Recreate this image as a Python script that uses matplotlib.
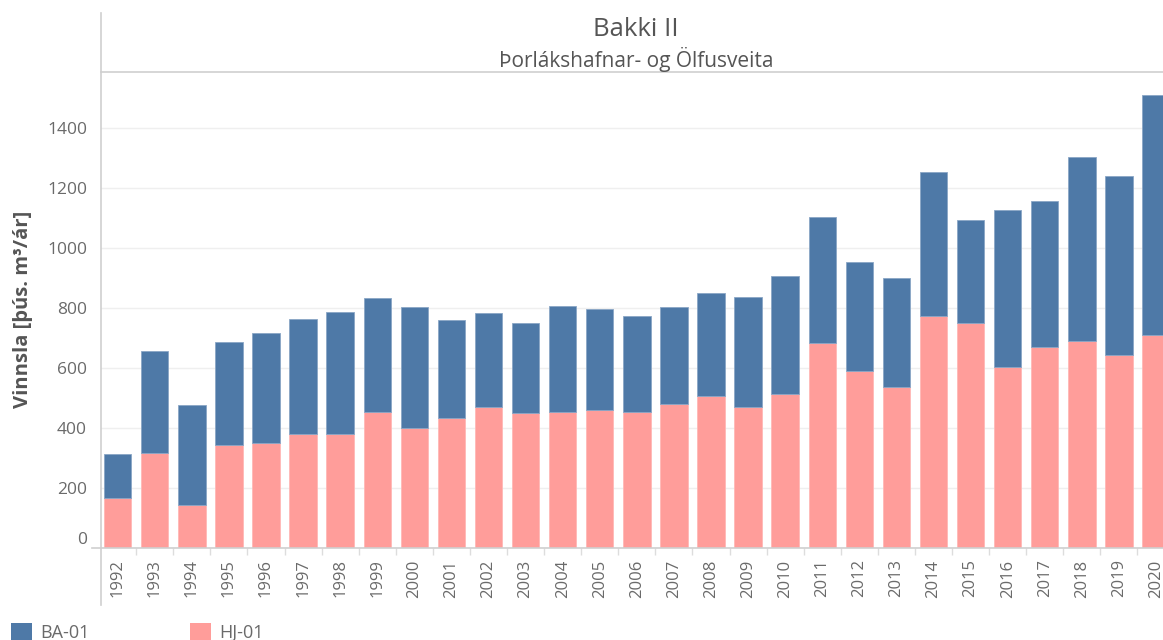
import matplotlib
matplotlib.use("Agg")
import numpy as np
import matplotlib.pyplot as plt
from matplotlib.patches import Patch
from matplotlib.lines import Line2D

plt.rcParams['font.family'] = ['Open Sans', 'DejaVu Sans']

# data (thous. m3 / year)
years = list(range(1992, 2021))
hj01 = [169, 319, 144, 343, 352, 382, 382, 454, 401, 435, 470, 450, 454, 460,
        454, 480, 508, 470, 513, 683, 590, 538, 774, 750, 605, 672, 692, 643, 711]
totals = [313, 659, 479, 688, 717, 765, 789, 833, 803, 760, 784, 751, 809, 799,
          774, 803, 852, 838, 907, 1104, 953, 900, 1254, 1094, 1129, 1157, 1303, 1240, 1511]
ba01 = [t - h for t, h in zip(totals, hj01)]

c_ba = '#4e79a7'
c_hj = '#ff9d9a'
grey = '#6a6a6a'
line_c = '#cfcfcf'

W, H = 1163, 640
fig = plt.figure(figsize=(W / 100, H / 100), dpi=100)
ax = fig.add_axes([101 / W, 1 - 548.3 / H, 1 - 101 / W, (548.3 - 72) / H])

x = np.array(years)
ax.bar(x, hj01, width=0.74, color=c_hj, edgecolor='#ffb8b6', linewidth=0.6, zorder=3)
ax.bar(x, ba01, bottom=hj01, width=0.74, color=c_ba, edgecolor='#8aa6c6', linewidth=0.6, zorder=3)

ax.set_xlim(1991.55, 2020.19)
ax.set_ylim(0, 1588)
ax.set_yticks(range(0, 1401, 200))
ax.set_yticklabels([str(v) for v in range(0, 1401, 200)])
ax.yaxis.grid(True, color='#efefef', linewidth=1, zorder=0)
ax.tick_params(axis='y', length=0, pad=10, labelsize=12.5, labelcolor=grey)
# Tableau nudges the zero label up a bit
ax.get_yticklabels()[0].set_va('bottom')

ax.set_xticks(x)
ax.set_xticklabels([str(y) for y in years], rotation=90)
ax.set_xticks(x[:-1] + 0.5, minor=True)
ax.tick_params(axis='x', which='major', length=0, pad=8, labelsize=12, labelcolor=grey)
ax.tick_params(axis='x', which='minor', length=5, color='#dddddd', width=1)
for s in ax.spines.values():
    s.set_visible(False)

# frame lines like the tableau layout
fig.add_artist(Line2D([101 / W, 101 / W], [1 - 13 / H, 1 - 605 / H], color=line_c, lw=1.2))
fig.add_artist(Line2D([101 / W, 1], [1 - 72 / H, 1 - 72 / H], color=line_c, lw=1.2))
fig.add_artist(Line2D([92 / W, 1], [1 - 548.3 / H, 1 - 548.3 / H], color=line_c, lw=1.2))

fig.text(636 / W, 1 - 30 / H, 'Bakki II', ha='center', va='center', fontsize=18.5, color='#555555')
fig.text(636 / W, 1 - 59 / H, 'Þorlákshafnar- og Ölfusveita', ha='center', va='center',
         fontsize=15, color='#555555')

fig.text(23 / W, 1 - 309 / H, 'Vinnsla [þús. m³/ár]', rotation=90, ha='center', va='center',
         fontsize=14.5, fontweight='bold', color='#555555')

handles = [Patch(facecolor=c_ba), Patch(facecolor=c_hj)]
fig.legend(handles, ['BA-01', 'HJ-01'], loc='upper left', bbox_to_anchor=(11 / W, 1 - 622.7 / H),
           ncol=2, frameon=False, fontsize=13, labelcolor=grey, borderpad=0, borderaxespad=0,
           handlelength=1.15, handleheight=1.2, handletextpad=0.45, columnspacing=5.6)

fig.savefig('out.png', dpi=100)
